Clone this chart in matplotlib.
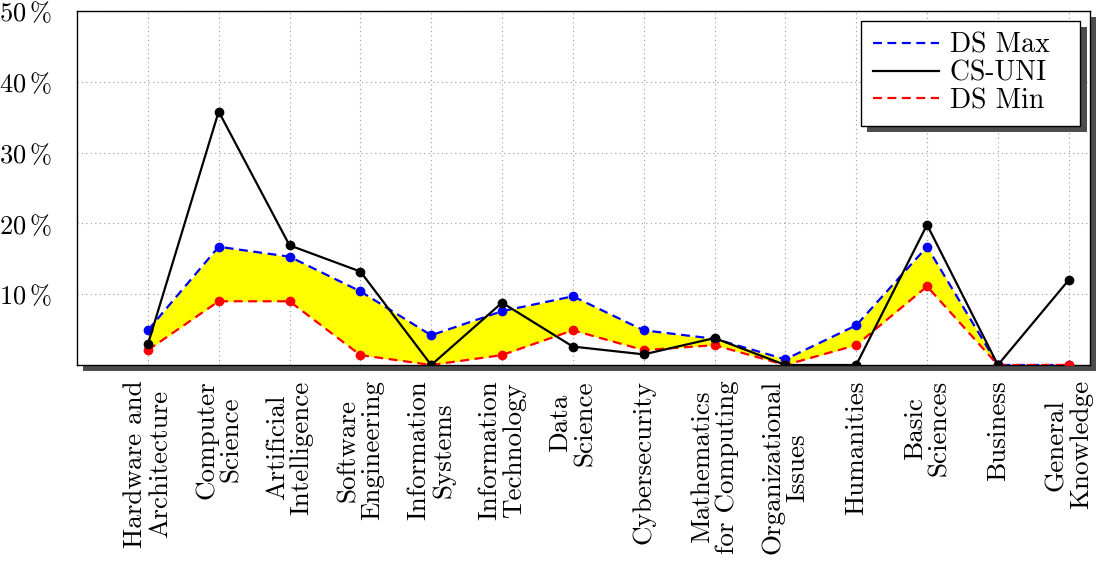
import numpy as np
import matplotlib
matplotlib.use("Agg")
import matplotlib.pyplot as plt
import matplotlib.patheffects as pe

# 数据
categories = ["Hardware and\nArchitecture", "Computer\nScience", "Artificial\nIntelligence",
              "Software\nEngineering", "Information\nSystems", "Information\nTechnology",
              "Data\nScience", "Cybersecurity", "Mathematics\nfor Computing",
              "Organizational\nIssues", "Humanities", "Basic\nSciences", "Business",
              "General\nKnowledge"]
ds_max = [4.9, 16.7, 15.3, 10.4, 4.2, 7.6, 9.7, 4.9, 3.7, 0.8, 5.6, 16.7, 0.0, 0.0]
cs_uni = [2.9, 35.8, 16.9, 13.2, 0.0, 8.8, 2.6, 1.5, 3.8, 0.0, 0.0, 19.8, 0.0, 12.0]
ds_min = [2.1, 9.0, 9.0, 1.4, 0.0, 1.4, 4.9, 2.1, 2.8, 0.0, 2.8, 11.1, 0.0, 0.0]
y_ticks = [10, 20, 30, 40, 50]

plt.rcParams['font.family'] = 'cmr10'
plt.rcParams['mathtext.fontset'] = 'cm'
plt.rcParams['axes.formatter.use_mathtext'] = True

fig = plt.figure(figsize=(10.97, 5.61), dpi=100)
ax = fig.add_axes([0.0702, 0.3494, 0.9234, 0.631])

x = np.arange(len(categories))

ax.fill_between(x, ds_min, ds_max, color='yellow', linewidth=0, zorder=2)
ax.plot(x, ds_max, color='blue', linestyle='--', linewidth=1.6, dashes=(4, 2.5),
        marker='o', markersize=6, label='DS Max', zorder=3)
ax.plot(x, cs_uni, color='black', linewidth=1.6, marker='o', markersize=6,
        label='CS-UNI', zorder=4)
ax.plot(x, ds_min, color='red', linestyle='--', linewidth=1.6, dashes=(4, 2.5),
        marker='o', markersize=6, label='DS Min', zorder=3)

ax.set_xlim(-1, 13.3)
ax.set_ylim(0, 50)
ax.set_xticks(x)
ax.set_xticklabels(categories, rotation=90, ha='center', va='top',
                   multialignment='center', fontsize=19.5, linespacing=1.05)
ax.set_yticks(y_ticks)
ax.set_yticklabels([rf"${v}\,\%$" for v in y_ticks], fontsize=19)
ax.tick_params(length=0)
ax.tick_params(axis='y', pad=18)
ax.tick_params(axis='x', pad=11)
ax.grid(True, linestyle=(0, (1, 3)), color='gray', linewidth=0.8, alpha=0.8)
ax.set_axisbelow(True)

for s in ax.spines.values():
    s.set_linewidth(1.0)
    s.set_color('black')

# 阴影
ax.patch.set_path_effects([pe.SimplePatchShadow(offset=(4, -4), shadow_rgbFace='#4d4d4d', alpha=1),
                           pe.Normal()])

leg = ax.legend(loc='upper right', fontsize=20, fancybox=False, framealpha=1,
                edgecolor='black', handlelength=2.4, borderaxespad=0.35,
                labelspacing=0.05, borderpad=0.42, handletextpad=0.4)
leg.get_frame().set_linewidth(1.0)
leg.get_frame().set_path_effects([pe.SimplePatchShadow(offset=(4.5, -4.5), shadow_rgbFace='#4d4d4d', alpha=1),
                                  pe.Normal()])
for h in leg.get_lines():
    h.set_marker('')
# 图例右侧留白
for t in leg.get_texts():
    t.set_text(t.get_text() + "  ")

fig.savefig('out.png', dpi=100)
